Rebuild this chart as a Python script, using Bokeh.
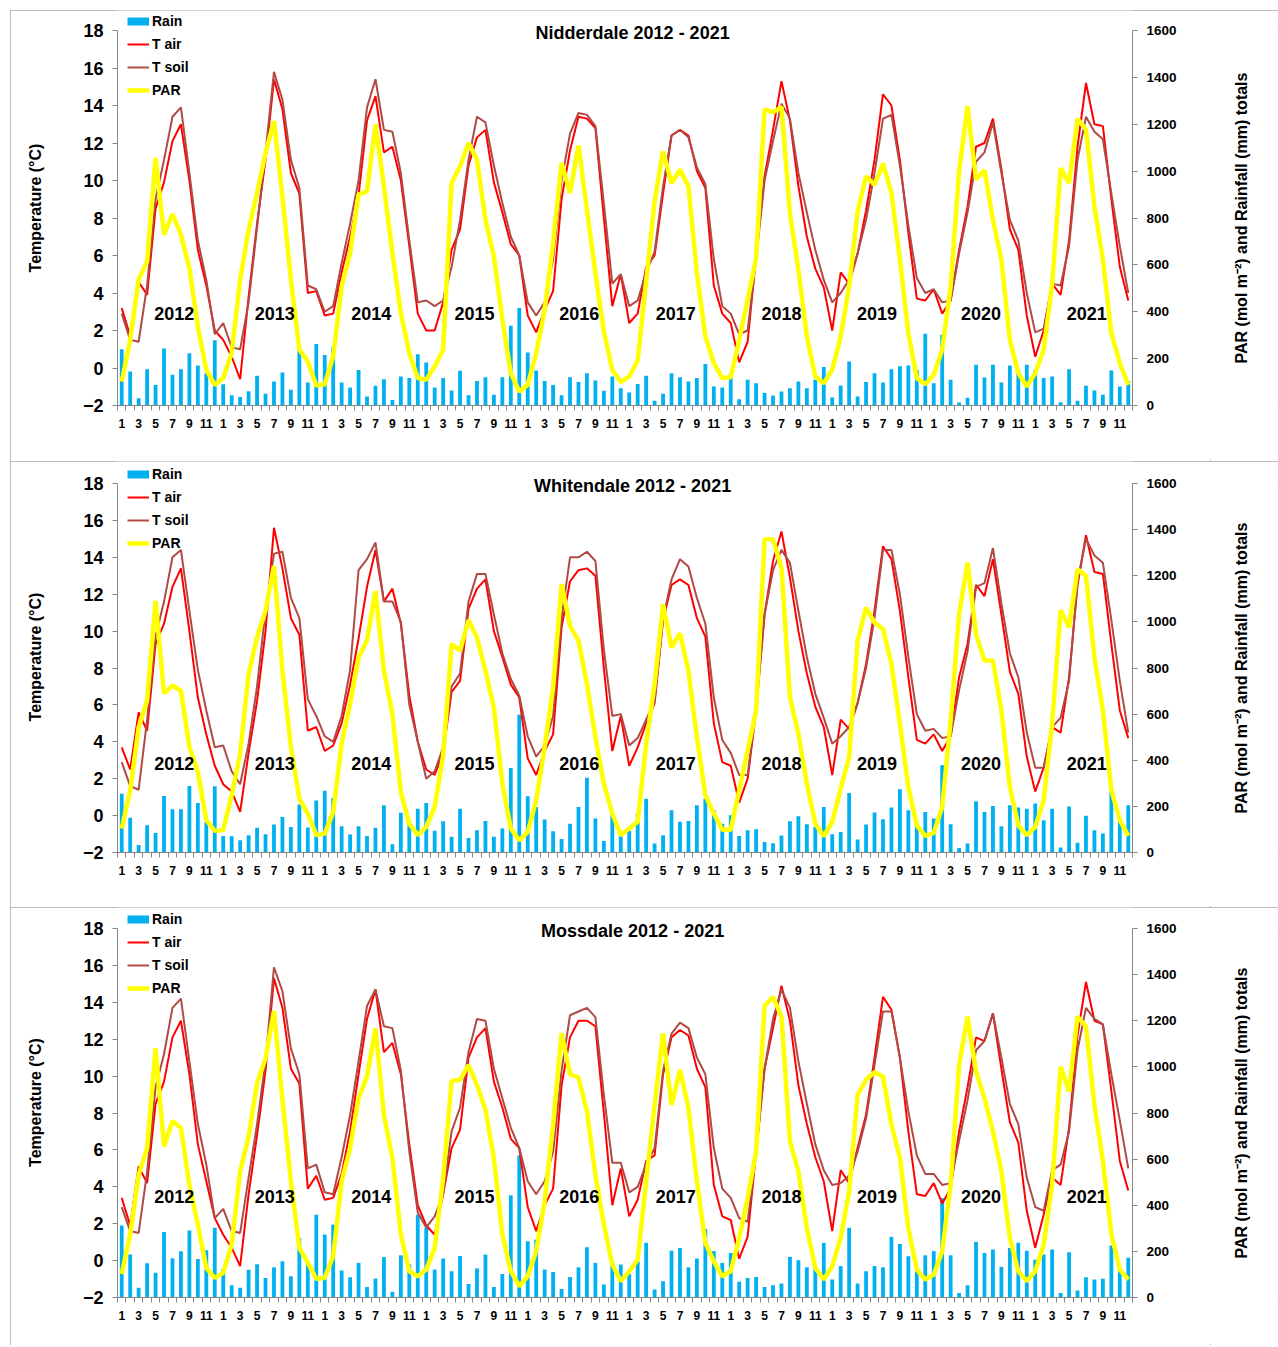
from bokeh.plotting import figure
from bokeh.models import Range1d, LinearAxis, FixedTicker, Legend, LegendItem, Label
from bokeh.layouts import column, row
from bokeh.core.properties import value
from bokeh.embed import file_html
from bokeh.resources import INLINE

# ---------------- data ----------------
month_numbers = [1, 2, 3, 4, 5, 6, 7, 8, 9, 10, 11, 12]
years = ["2012", "2013", "2014", "2015", "2016", "2017", "2018", "2019", "2020", "2021"]
sites = ["Nidderdale", "Whitendale", "Mossdale"]

nid_rain = [
    240, 145, 31, 155, 88, 243, 131, 155, 223, 171, 138, 278,
    91, 44, 36, 61, 127, 50, 102, 141, 67, 238, 98, 262,
    216, 249, 98, 77, 152, 38, 84, 112, 24, 124, 117, 219,
    184, 77, 117, 64, 148, 44, 105, 121, 46, 121, 340, 416,
    226, 149, 105, 88, 44, 121, 100, 138, 107, 63, 124, 74,
    55, 92, 127, 20, 50, 138, 121, 102, 117, 177, 81, 77,
    138, 27, 110, 95, 53, 43, 60, 74, 102, 74, 110, 164,
    34, 85, 188, 38, 100, 138, 98, 155, 167, 171, 152, 306,
    95, 302, 110, 13, 33, 174, 120, 174, 98, 171, 152, 174,
    152, 117, 124, 14, 155, 20, 84, 64, 46, 149, 81, 105]
nid_tair = [
    3.2, 1.7, 4.6, 3.9, 8.5, 9.9, 12.1, 13.0, 10.0, 6.3, 4.4, 2.0,
    1.5, 0.6, -0.6, 3.8, 7.7, 11.1, 15.4, 13.8, 10.4, 9.3, 4.0, 4.1,
    2.8, 2.9, 5.1, 7.0, 9.2, 13.2, 14.5, 11.5, 11.8, 10.0, 6.5, 2.9,
    2.0, 2.0, 3.5, 6.3, 7.4, 10.8, 12.3, 12.7, 9.9, 8.3, 6.6, 6.0,
    2.8, 1.9, 3.1, 4.1, 9.0, 11.6, 13.4, 13.3, 12.8, 8.0, 3.3, 5.0,
    2.4, 2.9, 5.4, 6.0, 9.3, 12.4, 12.7, 12.4, 10.5, 9.6, 4.4, 2.9,
    2.4, 0.3, 1.4, 6.0, 10.2, 12.7, 15.3, 13.2, 9.7, 7.0, 5.3, 4.3,
    2.0, 5.1, 4.5, 6.1, 8.4, 11.1, 14.6, 14.0, 11.1, 7.2, 3.7, 3.6,
    4.2, 2.9, 3.6, 6.3, 8.6, 11.8, 12.0, 13.3, 10.6, 7.4, 6.3, 2.8,
    0.6, 2.0, 4.5, 3.9, 6.8, 11.8, 15.2, 13.0, 12.9, 9.0, 5.4, 3.6]
nid_tsoil = [
    2.9, 1.5, 1.4, 4.4, 9.0, 11.1, 13.4, 13.9, 10.4, 6.8, 4.7, 1.8,
    2.4, 1.1, 1.0, 3.5, 7.5, 11.5, 15.8, 14.3, 11.1, 9.6, 4.4, 4.2,
    3.0, 3.3, 5.6, 7.7, 10.0, 13.9, 15.4, 12.7, 12.6, 10.4, 6.8, 3.5,
    3.6, 3.3, 3.6, 5.4, 7.9, 11.1, 13.4, 13.1, 10.8, 8.8, 7.0, 6.0,
    3.5, 2.8, 3.5, 5.8, 10.0, 12.5, 13.6, 13.5, 12.9, 8.8, 4.5, 5.0,
    3.3, 3.6, 5.1, 6.2, 9.7, 12.4, 12.7, 12.3, 10.7, 9.8, 5.8, 3.3,
    2.9, 1.8, 2.0, 5.8, 10.0, 12.1, 14.1, 13.3, 10.4, 8.3, 6.3, 4.7,
    3.5, 4.0, 4.7, 6.1, 7.9, 10.4, 13.3, 13.5, 10.8, 7.6, 4.8, 4.0,
    4.2, 3.5, 3.6, 6.1, 8.3, 11.0, 11.5, 13.1, 10.4, 7.9, 6.8, 4.0,
    1.9, 2.1, 4.5, 4.4, 6.5, 11.1, 13.4, 12.6, 12.2, 9.3, 6.5, 4.0]
nid_par = [
    102, 280, 537, 615, 1056, 729, 817, 729, 586, 337, 152, 88,
    117, 223, 537, 750, 907, 1078, 1213, 892, 537, 238, 188, 85,
    91, 209, 508, 650, 900, 914, 1199, 935, 650, 394, 223, 117,
    110, 167, 238, 949, 1021, 1120, 1049, 793, 636, 366, 138, 60,
    88, 223, 408, 693, 1035, 907, 1109, 836, 565, 316, 152, 100,
    124, 192, 530, 871, 1085, 949, 1006, 935, 565, 295, 181, 117,
    121, 280, 451, 629, 1263, 1251, 1274, 821, 579, 295, 124, 95,
    152, 295, 508, 828, 978, 942, 1032, 907, 622, 309, 117, 91,
    131, 238, 508, 999, 1277, 964, 1004, 793, 622, 280, 138, 81,
    138, 238, 515, 1013, 949, 1223, 1177, 850, 622, 309, 181, 88]

whi_rain = [
    255, 151, 32, 118, 85, 245, 187, 187, 288, 215, 133, 287,
    72, 71, 53, 75, 107, 79, 121, 154, 111, 208, 108, 226,
    268, 236, 114, 78, 114, 72, 107, 205, 36, 172, 118, 190,
    215, 94, 135, 68, 190, 63, 97, 137, 68, 104, 366, 597,
    244, 197, 143, 92, 58, 125, 197, 324, 147, 50, 169, 71,
    94, 169, 233, 39, 75, 183, 133, 137, 205, 233, 183, 125,
    161, 72, 97, 101, 45, 40, 74, 135, 157, 123, 111, 197,
    79, 89, 258, 56, 121, 173, 144, 195, 274, 183, 123, 176,
    147, 378, 123, 20, 39, 222, 176, 202, 114, 205, 195, 190,
    212, 140, 190, 22, 200, 42, 159, 97, 82, 267, 133, 205]
whi_tair = [
    3.7, 2.5, 5.6, 4.6, 9.3, 10.4, 12.4, 13.4, 10.0, 6.4, 4.4, 2.7,
    1.7, 1.3, 0.2, 3.4, 6.2, 10.0, 15.6, 13.4, 10.7, 9.8, 4.6, 4.8,
    3.5, 3.8, 5.0, 7.1, 9.6, 12.4, 14.4, 11.6, 12.3, 10.4, 6.5, 4.0,
    2.5, 2.2, 3.4, 6.7, 7.3, 11.2, 12.3, 12.8, 10.0, 8.6, 7.1, 6.4,
    3.1, 2.2, 3.5, 4.4, 10.2, 12.7, 13.3, 13.4, 13.0, 8.0, 3.5, 5.4,
    2.7, 3.7, 5.0, 6.1, 10.6, 12.5, 12.8, 12.5, 10.7, 9.7, 5.0, 2.9,
    2.7, 0.7, 2.0, 5.7, 10.9, 13.8, 15.4, 12.9, 10.0, 7.7, 5.9, 4.8,
    2.2, 5.2, 4.7, 6.1, 8.2, 11.1, 14.6, 13.9, 11.1, 7.5, 4.1, 3.9,
    4.4, 3.5, 4.3, 7.5, 9.3, 12.5, 11.9, 13.9, 10.9, 7.8, 6.6, 3.2,
    1.3, 2.6, 4.8, 4.5, 7.5, 12.5, 15.2, 13.2, 13.1, 9.3, 5.7, 4.2]
whi_tsoil = [
    2.9, 1.6, 1.4, 5.2, 9.7, 11.6, 14.0, 14.4, 11.1, 7.9, 5.7, 3.7,
    3.8, 2.4, 1.7, 3.9, 7.0, 11.1, 14.2, 14.3, 11.8, 10.7, 6.3, 5.4,
    4.3, 4.0, 5.4, 7.9, 13.3, 13.9, 14.8, 11.6, 11.6, 10.5, 6.0, 4.0,
    2.0, 2.4, 3.7, 7.0, 7.7, 11.6, 13.1, 13.1, 10.9, 8.8, 7.4, 6.5,
    4.3, 3.2, 3.8, 5.4, 10.7, 14.0, 14.0, 14.3, 13.8, 9.0, 5.4, 5.5,
    3.8, 4.2, 5.2, 6.2, 10.7, 12.8, 13.9, 13.5, 11.8, 10.4, 6.4, 4.1,
    3.4, 2.2, 2.2, 5.9, 10.9, 13.3, 14.4, 13.7, 11.1, 8.6, 6.6, 5.3,
    3.9, 4.3, 4.8, 6.1, 8.0, 10.7, 14.4, 14.4, 12.0, 8.6, 5.5, 4.6,
    4.7, 4.2, 4.3, 6.8, 8.9, 12.4, 12.6, 14.5, 11.5, 8.8, 7.5, 4.5,
    2.6, 2.6, 4.8, 5.3, 7.3, 12.7, 15.0, 14.1, 13.7, 10.6, 7.3, 4.5]
whi_par = [
    104, 270, 543, 659, 1091, 690, 724, 702, 457, 349, 140, 94,
    97, 248, 428, 774, 933, 1048, 1243, 788, 457, 233, 169, 75,
    82, 176, 471, 644, 846, 920, 1134, 788, 601, 262, 125, 75,
    111, 197, 421, 904, 875, 1008, 933, 788, 629, 298, 104, 53,
    89, 226, 457, 716, 1163, 983, 918, 731, 500, 298, 169, 75,
    104, 133, 471, 731, 1077, 889, 950, 788, 500, 248, 169, 99,
    99, 270, 442, 615, 1358, 1358, 1235, 673, 515, 298, 125, 71,
    133, 277, 414, 918, 1062, 997, 969, 817, 558, 284, 118, 72,
    85, 197, 572, 1033, 1257, 947, 832, 832, 615, 284, 118, 75,
    111, 226, 558, 1051, 976, 1228, 1199, 846, 615, 270, 140, 72]

mos_rain = [
    312, 186, 42, 149, 107, 284, 170, 201, 290, 167, 205, 302,
    124, 53, 42, 120, 144, 85, 131, 157, 92, 258, 150, 359,
    273, 316, 117, 88, 150, 46, 82, 175, 25, 183, 143, 359,
    302, 121, 169, 114, 180, 59, 126, 186, 45, 102, 443, 616,
    244, 251, 121, 111, 37, 89, 131, 218, 150, 56, 154, 143,
    102, 157, 237, 35, 71, 203, 215, 131, 169, 297, 201, 150,
    193, 68, 85, 89, 46, 53, 61, 176, 162, 131, 128, 237,
    78, 136, 302, 61, 114, 136, 131, 263, 232, 179, 117, 183,
    201, 431, 183, 20, 53, 241, 193, 208, 133, 215, 237, 203,
    164, 186, 208, 20, 196, 30, 88, 78, 81, 226, 121, 172]
mos_tair = [
    3.4, 1.9, 5.1, 4.2, 8.5, 9.7, 12.1, 13.0, 10.1, 6.3, 4.3, 2.3,
    1.4, 0.7, -0.3, 3.6, 6.8, 10.3, 15.3, 13.7, 10.4, 9.6, 3.9, 4.6,
    3.3, 3.4, 4.7, 7.0, 10.1, 13.1, 14.7, 11.3, 11.8, 10.1, 6.3, 3.0,
    1.9, 1.4, 3.6, 6.1, 7.1, 11.0, 12.1, 12.6, 9.7, 8.3, 6.6, 6.1,
    2.9, 1.6, 3.0, 3.9, 9.5, 12.1, 13.0, 13.0, 12.7, 8.0, 3.0, 5.0,
    2.4, 3.3, 5.4, 5.7, 10.1, 12.1, 12.5, 12.2, 10.4, 9.4, 4.1, 2.4,
    2.2, 0.1, 1.3, 5.9, 10.4, 12.6, 14.9, 13.0, 9.5, 7.4, 5.6, 4.3,
    1.6, 4.9, 4.2, 6.1, 7.9, 11.0, 14.3, 13.6, 11.0, 7.0, 3.6, 3.5,
    4.2, 3.1, 3.9, 7.0, 9.4, 12.1, 11.9, 13.4, 10.4, 7.5, 6.4, 2.7,
    0.7, 2.5, 4.5, 4.1, 7.2, 12.2, 15.1, 13.0, 12.8, 9.2, 5.4, 3.8]
mos_tsoil = [
    2.9, 1.6, 1.5, 4.8, 9.4, 11.2, 13.7, 14.2, 10.8, 7.4, 5.2, 2.3,
    2.8, 1.6, 1.5, 4.5, 7.4, 10.8, 15.9, 14.6, 11.5, 10.1, 5.0, 5.2,
    3.7, 3.6, 5.6, 7.9, 10.8, 13.8, 14.7, 12.7, 12.6, 10.3, 5.9, 2.6,
    1.8, 2.4, 3.6, 7.0, 8.3, 11.3, 13.1, 13.0, 10.4, 8.8, 7.2, 6.1,
    4.3, 3.6, 4.3, 5.9, 10.3, 13.3, 13.5, 13.7, 13.2, 9.0, 5.3, 5.3,
    3.7, 4.0, 5.2, 6.1, 10.3, 12.3, 12.9, 12.6, 11.0, 10.1, 6.1, 3.9,
    3.4, 2.3, 2.1, 5.8, 10.4, 13.1, 14.7, 13.7, 10.8, 8.5, 6.3, 4.9,
    4.1, 4.2, 4.6, 5.9, 7.7, 10.6, 13.5, 13.5, 11.0, 8.1, 5.7, 4.7,
    4.7, 4.1, 4.2, 6.5, 8.7, 11.4, 11.9, 13.4, 11.0, 8.5, 7.4, 4.5,
    2.9, 2.7, 4.9, 5.2, 7.0, 11.4, 13.7, 13.1, 12.8, 10.1, 7.6, 5.0]
mos_par = [
    102, 273, 532, 648, 1081, 655, 766, 734, 489, 316, 128, 85,
    107, 229, 547, 698, 929, 1037, 1242, 857, 504, 215, 150, 81,
    85, 179, 504, 648, 864, 958, 1167, 792, 604, 273, 114, 92,
    121, 215, 518, 939, 944, 1008, 922, 814, 604, 273, 114, 49,
    92, 201, 417, 749, 1146, 968, 954, 807, 532, 316, 143, 71,
    114, 164, 504, 835, 1146, 835, 987, 821, 504, 237, 157, 92,
    114, 258, 431, 633, 1265, 1304, 1218, 677, 547, 301, 128, 78,
    136, 258, 460, 879, 944, 977, 958, 750, 605, 302, 121, 78,
    99, 200, 490, 1008, 1218, 980, 865, 721, 548, 258, 114, 71,
    114, 229, 490, 1001, 893, 1218, 1175, 835, 591, 274, 121, 78]

# ---------------- styling ----------------
FONT = "Liberation Sans"
RAIN_C = "#00B0F0"
AIR_C = "#FF0000"
SOIL_C = "#B04A45"
PAR_C = "#FFFF00"
AX_C = "#868686"
RIGHT_LABEL = "PAR (mol m\u207b\u00b2) and Rainfall (mm) totals"

idx = list(range(len(nid_rain)))
year_pos = [6.2, 18.1, 29.5, 41.7, 54.1, 65.5, 78.0, 89.3, 101.6, 114.1]

MAIN_W = 1200
SIDE_W = 68


def no_frame_align(fig):
    try:
        fig.frame_align = False
        return True
    except Exception:
        return False


def panel(title, rain, tair, tsoil, par, height, top, bottom, year_y):
    fh = height - top - bottom            # pixel height of the -2..18 band
    ext = top * 20.0 / fh                 # extra data room above 18 (keeps title/legend unclipped)
    p = figure(width=MAIN_W, height=height,
               x_range=Range1d(-0.5, len(idx) - 0.5), y_range=Range1d(-2, 18 + ext),
               output_backend="svg", toolbar_location=None,
               min_border_left=107, min_border_right=78,
               min_border_top=0, min_border_bottom=bottom,
               outline_line_color=None, background_fill_color="white",
               border_fill_color="white")
    p.extra_y_ranges = {"right": Range1d(0, 1600 + ext * 80)}
    p.xgrid.visible = False
    p.ygrid.visible = False

    # x axis (months)
    xa = p.xaxis[0]
    ticks = [i for i in idx if i % 2 == 0]
    xa.ticker = FixedTicker(ticks=ticks, minor_ticks=[i - 0.5 for i in range(len(idx) + 1)])
    xa.major_label_overrides = {i: str(month_numbers[i % 12]) for i in ticks}
    xa.major_tick_out = 0
    xa.major_tick_in = 0
    xa.minor_tick_out = 5
    xa.minor_tick_in = 0
    xa.axis_line_color = AX_C
    xa.minor_tick_line_color = AX_C
    xa.major_label_text_font = FONT
    xa.major_label_text_font_style = "bold"
    xa.major_label_text_font_size = "12px"
    xa.major_label_text_color = "black"
    xa.major_label_standoff = 8

    # left axis
    ya = p.yaxis[0]
    ya.ticker = FixedTicker(ticks=list(range(-2, 19, 2)))
    ya.bounds = (-2, 18)
    ya.major_tick_out = 5
    ya.major_tick_in = 0
    ya.minor_tick_out = 0
    ya.minor_tick_in = 0
    ya.axis_line_color = AX_C
    ya.major_tick_line_color = AX_C
    ya.major_label_text_font = FONT
    ya.major_label_text_font_style = "bold"
    ya.major_label_text_font_size = "18px"
    ya.major_label_text_color = "black"
    ya.major_label_standoff = 9
    ya.axis_label = "Temperature (°C)"
    ya.axis_label_text_font = FONT
    ya.axis_label_text_font_style = "bold"
    ya.axis_label_text_font_size = "16px"
    ya.axis_label_text_color = "black"
    ya.axis_label_standoff = 36

    # right axis (ticks only; its title is drawn by the side strip)
    ra = LinearAxis(y_range_name="right", ticker=FixedTicker(ticks=list(range(0, 1601, 200))))
    ra.bounds = (0, 1600)
    ra.major_tick_out = 5
    ra.major_tick_in = 0
    ra.minor_tick_out = 0
    ra.minor_tick_in = 0
    ra.axis_line_color = AX_C
    ra.major_tick_line_color = AX_C
    ra.major_label_text_font = FONT
    ra.major_label_text_font_style = "bold"
    ra.major_label_text_font_size = "13.5px"
    ra.major_label_text_color = "black"
    ra.major_label_standoff = 9
    p.add_layout(ra, "right")

    # glyphs
    p.vbar(x=idx, top=rain, bottom=0, width=0.45, y_range_name="right",
           fill_color=RAIN_C, line_color=None)
    r_air = p.line(idx, tair, line_color=AIR_C, line_width=2)
    r_soil = p.line(idx, tsoil, line_color=SOIL_C, line_width=2)
    r_par = p.line(idx, par, line_color=PAR_C, line_width=4.5, y_range_name="right")
    # legend key for rain (single point line: draws nothing on the plot)
    rain_key = p.line(idx[:1], rain[:1], y_range_name="right",
                      line_color=RAIN_C, line_width=8, line_cap="butt")

    # year labels
    p.text(x=year_pos, y=[year_y] * len(years), text=years,
           text_font=value(FONT), text_font_style="bold", text_font_size="18px",
           text_align="center", text_baseline="middle", text_color="black")

    # title (sits at the top of the plot area)
    p.add_layout(Label(x=60.4, y=17.85, text=title, text_font=FONT,
                       text_font_style="bold", text_font_size="18px",
                       text_align="center", text_baseline="middle", text_color="black"))

    legend = Legend(items=[LegendItem(label="Rain", renderers=[rain_key]),
                           LegendItem(label="T air", renderers=[r_air]),
                           LegendItem(label="T soil", renderers=[r_soil]),
                           LegendItem(label="PAR", renderers=[r_par])],
                    location=(10, fh - 70), orientation="vertical",
                    background_fill_alpha=0, border_line_color=None,
                    padding=0, margin=0, spacing=3,
                    glyph_width=22, glyph_height=20, label_height=20, label_standoff=3,
                    label_text_font=FONT, label_text_font_style="bold",
                    label_text_font_size="14px", label_text_color="black")
    p.add_layout(legend)

    # side strip carrying the right-hand axis title, reading bottom-to-top
    s = figure(width=SIDE_W, height=height, x_range=Range1d(0, 1), y_range=Range1d(0, 1),
               output_backend="svg", toolbar_location=None,
               min_border_left=50, min_border_right=0,
               min_border_top=0, min_border_bottom=bottom,
               outline_line_color=None, background_fill_color="white",
               border_fill_color="white")
    ok = no_frame_align(p) and no_frame_align(s)
    if ok:
        s.min_border_top = top
    s.xaxis.visible = False
    s.grid.visible = False
    sa = s.yaxis[0]
    sa.ticker = FixedTicker(ticks=[])
    sa.axis_line_color = None
    sa.major_tick_line_color = None
    sa.minor_tick_line_color = None
    sa.major_tick_out = 0
    sa.minor_tick_out = 0
    sa.major_label_standoff = 0
    sa.axis_label = RIGHT_LABEL
    sa.axis_label_text_font = FONT
    sa.axis_label_text_font_style = "bold"
    sa.axis_label_text_font_size = "16px"
    sa.axis_label_text_color = "black"
    sa.axis_label_standoff = 11

    return row(p, s, spacing=0,
               styles={"outline": "1px solid #a6a6a6", "outline-offset": "-1px"})


r1 = panel(f"{sites[0]} 2012 - 2021", nid_rain, nid_tair, nid_tsoil, nid_par, 451, 20, 56, 2.9)
r2 = panel(f"{sites[1]} 2012 - 2021", whi_rain, whi_tair, whi_tsoil, whi_par, 446, 22, 55, 2.8)
r3 = panel(f"{sites[2]} 2012 - 2021", mos_rain, mos_tair, mos_tsoil, mos_par, 438, 21, 48, 3.5)

layout = column(r1, r2, r3, spacing=0, margin=(10, 0, 0, 10))
open("out.html", "w").write(file_html(layout, INLINE))
